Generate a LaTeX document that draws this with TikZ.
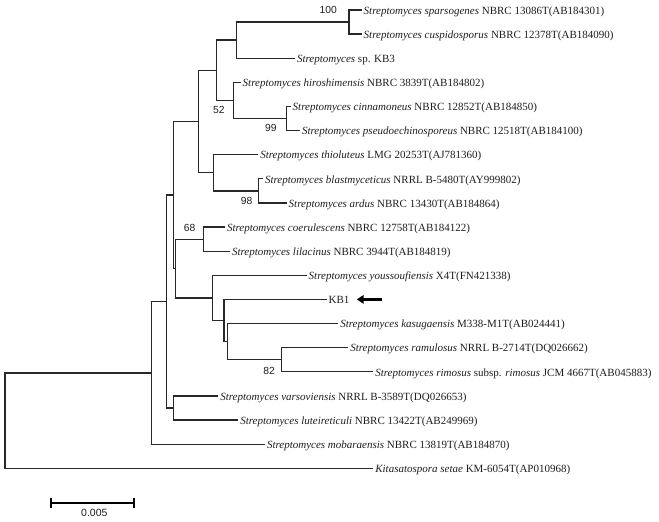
\documentclass[tikz,border=0pt]{standalone}
\usepackage{fontspec}
\setmainfont{Liberation Serif}
\newfontfamily\bsfont{Liberation Sans}
\usetikzlibrary{arrows.meta}
\definecolor{treeline}{RGB}{40,40,40}
\definecolor{treetext}{RGB}{30,30,30}
\begin{document}
\begin{tikzpicture}[x=1pt,y=-1pt,
  branch/.style={draw=treeline,line width=1.3pt},
  leaf/.style={anchor=base west,inner sep=0pt,xshift=1.8pt,yshift=-4.2pt,text=treetext,font=\fontsize{11}{13}\selectfont},
  boot/.style={anchor=base,inner sep=0pt,text=treetext,font=\bsfont\fontsize{10.3}{12}\selectfont},
  scalebar/.style={draw=black,line width=2.2pt},
  kbarrow/.style={draw=black,line width=2.6pt,-{Triangle[length=7pt,width=8.5pt]}}]
\useasboundingbox (0,0) rectangle (659,522);
% leaf tips
\coordinate (t1) at (361.7,10);
\coordinate (t2) at (361.7,34.1);
\coordinate (t3) at (295,58.2);
\coordinate (t4) at (240.7,82.4);
\coordinate (t5) at (290.7,106.5);
\coordinate (t6) at (300,130.6);
\coordinate (t7) at (258.3,154.7);
\coordinate (t8) at (263,178.8);
\coordinate (t9) at (286.7,203);
\coordinate (t10) at (225,227.1);
\coordinate (t11) at (230,251.2);
\coordinate (t12) at (306.7,275.3);
\coordinate (t13) at (326.7,299.4);
\coordinate (t14) at (338.3,323.6);
\coordinate (t15) at (348.3,347.7);
\coordinate (t16) at (373.3,371.8);
\coordinate (t17) at (218.3,395.9);
\coordinate (t18) at (238.3,420);
\coordinate (t19) at (265,444.2);
\coordinate (t20) at (373.3,468.3);
% internal nodes
\coordinate (nsc) at (349,22.05);
\coordinate (nA) at (236.7,40.1);
\coordinate (ncp) at (286.3,118.55);
\coordinate (nB) at (233.3,100.5);
\coordinate (nC) at (216.7,70.3);
\coordinate (nE) at (258.3,190.9);
\coordinate (nD) at (213.3,172.8);
\coordinate (nF) at (198.3,121.55);
\coordinate (n68) at (203.3,239.15);
\coordinate (n82) at (281.7,359.75);
\coordinate (nK) at (227.3,341.7);
\coordinate (nJ) at (224,320.5);
\coordinate (nI) at (212.7,297.9);
\coordinate (nL) at (175.7,268.5);
\coordinate (nM) at (173.3,195);
\coordinate (nQ) at (173.3,407.95);
\coordinate (nP) at (166.3,301.5);
\coordinate (nR) at (151.7,372.85);
\coordinate (root) at (5,420.6);
% branches
\draw[branch] (nsc) |- (t1) (nsc) |- (t2);
\draw[branch] (nA) |- (nsc) (nA) |- (t3);
\draw[branch] (ncp) |- (t5) (ncp) |- (t6);
\draw[branch] (nB) |- (t4) (nB) |- (ncp);
\draw[branch] (nC) |- (nA) (nC) |- (nB);
\draw[branch] (nE) |- (t8) (nE) |- (t9);
\draw[branch] (nD) |- (t7) (nD) |- (nE);
\draw[branch] (nF) |- (nC) (nF) |- (nD);
\draw[branch] (n68) |- (t10) (n68) |- (t11);
\draw[branch] (n82) |- (t15) (n82) |- (t16);
\draw[branch] (nK) |- (t14) (nK) |- (n82);
\draw[branch] (nJ) |- (t13) (nJ) |- (nK);
\draw[branch] (nI) |- (t12) (nI) |- (nJ);
\draw[branch] (nL) |- (n68) (nL) |- (nI);
\draw[branch] (nM) |- (nF) (nM) |- (nL);
\draw[branch] (nQ) |- (t17) (nQ) |- (t18);
\draw[branch] (nP) |- (nM) (nP) |- (nQ);
\draw[branch] (nR) |- (nP) (nR) |- (t19);
\draw[branch] (root) |- (nR) (root) |- (t20);
% leaf labels
\node[leaf] (l1) at (t1) {\textit{Streptomyces sparsogenes} NBRC 13086T(AB184301)};
\node[leaf] (l2) at (t2) {\textit{Streptomyces cuspidosporus} NBRC 12378T(AB184090)};
\node[leaf] (l3) at (t3) {\textit{Streptomyces} sp. KB3};
\node[leaf] (l4) at (t4) {\textit{Streptomyces hiroshimensis} NBRC 3839T(AB184802)};
\node[leaf] (l5) at (t5) {\textit{Streptomyces cinnamoneus} NBRC 12852T(AB184850)};
\node[leaf] (l6) at (t6) {\textit{Streptomyces pseudoechinosporeus} NBRC 12518T(AB184100)};
\node[leaf] (l7) at (t7) {\textit{Streptomyces thioluteus} LMG 20253T(AJ781360)};
\node[leaf] (l8) at (t8) {\textit{Streptomyces blastmyceticus} NRRL B-5480T(AY999802)};
\node[leaf] (l9) at (t9) {\textit{Streptomyces ardus} NBRC 13430T(AB184864)};
\node[leaf] (l10) at (t10) {\textit{Streptomyces coerulescens} NBRC 12758T(AB184122)};
\node[leaf] (l11) at (t11) {\textit{Streptomyces lilacinus} NBRC 3944T(AB184819)};
\node[leaf] (l12) at (t12) {\textit{Streptomyces youssoufiensis} X4T(FN421338)};
\node[leaf] (l13) at (t13) {KB1};
\node[leaf] (l14) at (t14) {\textit{Streptomyces kasugaensis} M338-M1T(AB024441)};
\node[leaf] (l15) at (t15) {\textit{Streptomyces ramulosus} NRRL B-2714T(DQ026662)};
\node[leaf] (l16) at (t16) {\textit{Streptomyces rimosus} subsp. \textit{rimosus} JCM 4667T(AB045883)};
\node[leaf] (l17) at (t17) {\textit{Streptomyces varsoviensis} NRRL B-3589T(DQ026653)};
\node[leaf] (l18) at (t18) {\textit{Streptomyces luteireticuli} NBRC 13422T(AB249969)};
\node[leaf] (l19) at (t19) {\textit{Streptomyces mobaraensis} NBRC 13819T(AB184870)};
\node[leaf] (l20) at (t20) {\textit{Kitasatospora setae} KM-6054T(AP010968)};
% bootstrap values
\node[boot] (b100) at (328.3,13.3) {100};
\node[boot] (b52) at (218.8,113.3) {52};
\node[boot] (b99) at (270.8,131.7) {99};
\node[boot] (b98) at (246.7,204) {98};
\node[boot] (b68) at (189.7,231.7) {68};
\node[boot] (b82) at (269.2,374) {82};
% KB1 arrow
\coordinate (arS) at (382,299.4);
\coordinate (arE) at (356.7,299.4);
\draw[kbarrow] (arS) -- (arE);
% scale bar
\coordinate (sb1) at (50.7,502.7);
\coordinate (sb2) at (134.3,502.7);
\draw[scalebar] (sb1) -- (sb2);
\draw[scalebar] (50.7,498.3) -- (50.7,507.7);
\draw[scalebar] (134.3,498.3) -- (134.3,507.7);
\node[boot,font=\bsfont\fontsize{10.5}{12}\selectfont] (sblab) at (94.3,516.7) {0.005};
\end{tikzpicture}
\end{document}
